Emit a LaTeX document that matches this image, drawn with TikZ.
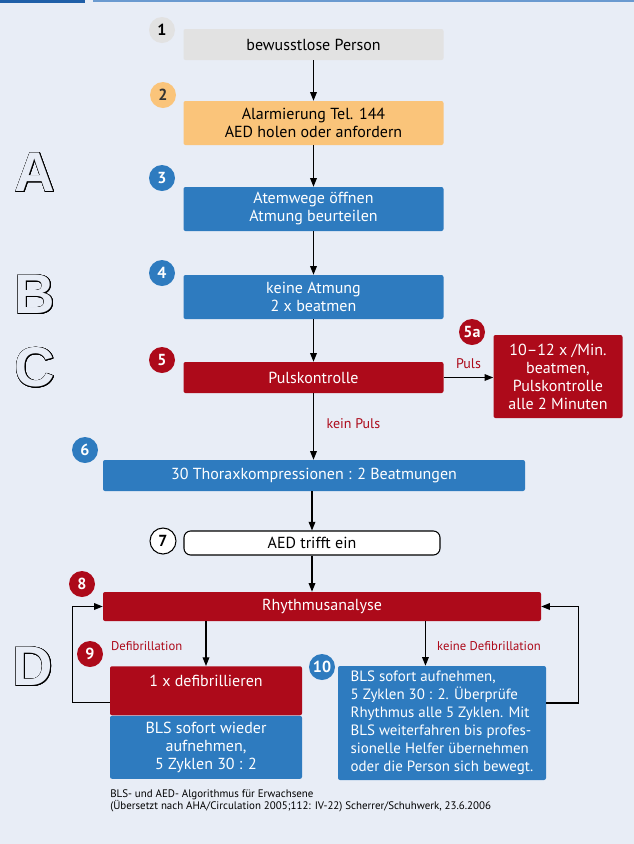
\documentclass[tikz,border=0pt]{standalone}
\usepackage{fontspec}
\setmainfont{PT Sans}
\newfontfamily\letterfont{Liberation Sans}
\usepackage[copies]{contour}
\contourlength{0.55pt}
\usetikzlibrary{arrows.meta,calc}

\definecolor{aedbg}{HTML}{E8EDF6}
\definecolor{aedgray}{HTML}{E2E2E2}
\definecolor{aedorange}{HTML}{FAC47A}
\definecolor{aedblue}{HTML}{2E7BBF}
\definecolor{aedred}{HTML}{AD0A1A}
\definecolor{aeddark}{HTML}{1F5FA8}
\definecolor{aedline}{HTML}{6A9AD0}

\tikzset{
  box/.style={rounded corners=1.5pt, align=center, inner sep=0pt,
    font=\fontsize{12}{13.5}\selectfont},
  graybox/.style={box, fill=aedgray, minimum width=195pt},
  orangebox/.style={box, fill=aedorange, minimum width=195pt},
  bluebox/.style={box, fill=aedblue, text=white},
  redbox/.style={box, fill=aedred, text=white},
  num/.style={circle, minimum size=19.5pt, inner sep=0pt, text=white,
    font=\bfseries\fontsize{12}{12}\selectfont},
  arr/.style={-{Triangle[length=6.5pt,width=5pt]}, line width=0.9pt},
  lbl/.style={text=aedred, font=\fontsize{10.5}{12}\selectfont},
  smalllbl/.style={text=aedred, font=\fontsize{9.5}{11}\selectfont},
  abc/.style={text=aedbg, font=\letterfont\bfseries\fontsize{42}{42}\selectfont}
}

\begin{document}
\begin{tikzpicture}[x=0.75pt,y=-0.75pt]
    % background and top rule
    \fill[aedbg] (0,0) rectangle (634,844);
    \fill[aeddark] (0,0) rectangle (85,2.5);
    \fill[aedline] (93,0) rectangle (634,1.5);

    % letters
    \node[abc] (la) at (35,173) {\contour{black}{A}};
    \node[abc] (lb) at (35,295) {\contour{black}{B}};
    \node[abc] (lc) at (35,368) {\contour{black}{C}};
    \node[abc] (ld) at (33,667) {\contour{black}{D}};

    % boxes
    \node[graybox, minimum height=23.25pt] (b1) at (313.5,44.5) {bewusstlose Person};
    \node[orangebox, minimum height=33pt] (b2) at (313.5,123) {Alarmierung Tel. 144\\AED holen oder anfordern};
    \node[bluebox, minimum width=195pt, minimum height=33pt] (b3) at (313.5,209) {Atemwege öffnen\\Atmung beurteilen};
    \node[bluebox, minimum width=195pt, minimum height=33pt] (b4) at (313.5,297) {keine Atmung\\2 x beatmen};
    \node[redbox, minimum width=195pt, minimum height=23.25pt] (b5) at (313.5,377.5) {Pulskontrolle};
    \node[redbox, minimum width=96.75pt, minimum height=62.25pt] (b5a) at (558,376.5) {10--12 x /Min.\\beatmen,\\Pulskontrolle\\alle 2 Minuten};
    \node[bluebox, minimum width=316.5pt, minimum height=23.25pt] (b6) at (314,475.5) {30 Thoraxkompressionen : 2 Beatmungen};
    \node[box, draw, fill=white, rounded corners=5pt, line width=0.8pt, minimum width=192pt, minimum height=18pt] (b7) at (312,543) {AED trifft ein};
    \node[redbox, minimum width=328.5pt, minimum height=21.75pt] (b8) at (322,606.5) {Rhythmusanalyse};
    \node[redbox, minimum width=144pt, text height=15pt, text depth=21.75pt] (b9top) at (206,666) [anchor=north] {1 x defibrillieren};
    \node[bluebox, minimum width=144pt, minimum height=47.25pt, anchor=north] (b9bot) at (b9top.south) {BLS sofort wieder\\aufnehmen,\\5 Zyklen 30 : 2};
    \node[bluebox, align=left, minimum width=156pt, minimum height=85.5pt, font=\fontsize{11.2}{13.5}\selectfont] (b10) at (442,723) {BLS sofort aufnehmen,\\5 Zyklen 30 : 2. Überprüfe\\Rhythmus alle 5 Zyklen. Mit\\BLS weiterfahren bis profes-\\sionelle Helfer übernehmen\\oder die Person sich bewegt.};

    % numbers
    \node[num, fill=aedgray, text=black] (n1) at (162,30) {1};
    \node[num, fill=aedorange, text=black!80] (n2) at (163,95) {2};
    \node[num, fill=aedblue] (n3) at (162,178) {3};
    \node[num, fill=aedblue] (n4) at (162,273) {4};
    \node[num, fill=aedred] (n5) at (162,360) {5};
    \node[num, fill=aedred] (n5a) at (472,332) {5a};
    \node[num, fill=aedblue] (n6) at (85,450) {6};
    \node[num, draw, fill=white, text=black, line width=0.8pt] (n7) at (163,541) {7};
    \node[num, fill=aedred] (n8) at (82,584) {8};
    \node[num, fill=aedred] (n9) at (90,654) {9};
    \node[num, fill=aedblue] (n10) at (322,667) {10};

    % arrows
    \draw[arr] (b1) -- (b2);
    \draw[arr] (b2) -- (b3);
    \draw[arr] (b3) -- (b4);
    \draw[arr] (b4) -- (b5);
    \draw[arr] (b5.east) -- node[lbl, above=3pt] {Puls} (b5.east -| b5a.west);
    \draw[arr] (b5.south) -- node[lbl, right=6pt, pos=0.45] {kein Puls} (b5.south |- b6.north);
    \draw[arr] (b7.north |- b6.south) -- (b7.north);
    \draw[arr] (b7.south) -- (b7.south |- b8.north);
    \draw[arr] (b8.south -| b9top.north) -- node[smalllbl, left=14pt, pos=0.55] {Defibrillation} (b9top.north);
    \coordinate (k) at ([xshift=-12.4pt]b10.north);
    \draw[arr] (b8.south -| k) -- node[smalllbl, right=5pt, pos=0.55] {keine Defibrillation} (k);
    \draw[arr] ([yshift=-9pt]b9top.west) -- ++(-37,0) |- (b8.west);
    \draw[arr] ([yshift=15pt]b10.east) -- ++(32,0) |- (b8.east);

    % caption
    \node[anchor=north west, align=left, inner sep=0pt, font=\fontsize{8.2}{9.5}\selectfont] (cap) at (110,789)
      {BLS- und AED- Algorithmus für Erwachsene\\(Übersetzt nach AHA/Circulation 2005;112: IV-22) Scherrer/Schuhwerk, 23.6.2006};
\end{tikzpicture}
\end{document}
